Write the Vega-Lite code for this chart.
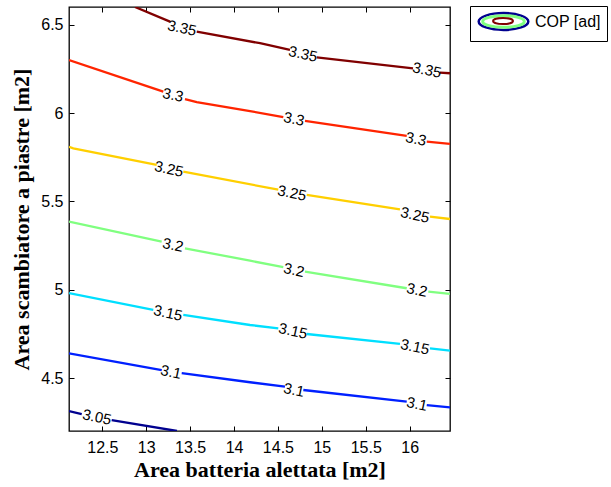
{
  "$schema": "https://vega.github.io/schema/vega-lite/v6.json",
  "width": 381,
  "height": 424,
  "autosize": "none",
  "padding": {"left": 69, "top": 7, "right": 161, "bottom": 56},
  "background": "white",
  "config": {
    "view": {"stroke": "black", "strokeWidth": 1.3},
    "axis": {
      "domain": false,
      "grid": false,
      "tickColor": "black",
      "tickSize": -5,
      "tickWidth": 1,
      "labelFont": "Liberation Sans",
      "labelFontSize": 16,
      "labelColor": "black",
      "labelPadding": 11,
      "titleFont": "Liberation Serif",
      "titleFontSize": 22,
      "titleFontWeight": "bold",
      "titleColor": "black"
    }
  },
  "datasets": {
    "lines": [
      {"lev": "3.35", "s": 1, "x": 12.872, "y": 6.6},
      {"lev": "3.35", "s": 1, "x": 13.27, "y": 6.517},
      {"lev": "3.35", "s": 2, "x": 13.575, "y": 6.46},
      {"lev": "3.35", "s": 2, "x": 14.296, "y": 6.395},
      {"lev": "3.35", "s": 2, "x": 14.637, "y": 6.357},
      {"lev": "3.35", "s": 3, "x": 14.942, "y": 6.315},
      {"lev": "3.35", "s": 3, "x": 16.039, "y": 6.253},
      {"lev": "3.35", "s": 4, "x": 16.346, "y": 6.228},
      {"lev": "3.35", "s": 4, "x": 16.46, "y": 6.225},
      {"lev": "3.3", "s": 1, "x": 12.12, "y": 6.3},
      {"lev": "3.3", "s": 1, "x": 13.194, "y": 6.121},
      {"lev": "3.3", "s": 2, "x": 13.441, "y": 6.078},
      {"lev": "3.3", "s": 2, "x": 13.575, "y": 6.061},
      {"lev": "3.3", "s": 2, "x": 14.182, "y": 6.011},
      {"lev": "3.3", "s": 2, "x": 14.561, "y": 5.976},
      {"lev": "3.3", "s": 3, "x": 14.808, "y": 5.956},
      {"lev": "3.3", "s": 3, "x": 15.967, "y": 5.87},
      {"lev": "3.3", "s": 4, "x": 16.195, "y": 5.838},
      {"lev": "3.3", "s": 4, "x": 16.46, "y": 5.825},
      {"lev": "3.25", "s": 1, "x": 12.12, "y": 5.809},
      {"lev": "3.25", "s": 1, "x": 12.169, "y": 5.8},
      {"lev": "3.25", "s": 1, "x": 13.119, "y": 5.706},
      {"lev": "3.25", "s": 2, "x": 13.422, "y": 5.668},
      {"lev": "3.25", "s": 2, "x": 14.504, "y": 5.566},
      {"lev": "3.25", "s": 3, "x": 14.828, "y": 5.536},
      {"lev": "3.25", "s": 3, "x": 15.89, "y": 5.455},
      {"lev": "3.25", "s": 4, "x": 16.232, "y": 5.413},
      {"lev": "3.25", "s": 4, "x": 16.46, "y": 5.4},
      {"lev": "3.2", "s": 1, "x": 12.12, "y": 5.385},
      {"lev": "3.2", "s": 1, "x": 13.176, "y": 5.272},
      {"lev": "3.2", "s": 2, "x": 13.441, "y": 5.234},
      {"lev": "3.2", "s": 2, "x": 14.182, "y": 5.164},
      {"lev": "3.2", "s": 2, "x": 14.561, "y": 5.127},
      {"lev": "3.2", "s": 3, "x": 14.808, "y": 5.102},
      {"lev": "3.2", "s": 3, "x": 15.967, "y": 5.008},
      {"lev": "3.2", "s": 4, "x": 16.213, "y": 4.989},
      {"lev": "3.2", "s": 4, "x": 16.46, "y": 4.976},
      {"lev": "3.15", "s": 1, "x": 12.12, "y": 4.98},
      {"lev": "3.15", "s": 1, "x": 13.08, "y": 4.885},
      {"lev": "3.15", "s": 2, "x": 13.422, "y": 4.857},
      {"lev": "3.15", "s": 2, "x": 14.182, "y": 4.8},
      {"lev": "3.15", "s": 2, "x": 14.504, "y": 4.781},
      {"lev": "3.15", "s": 3, "x": 14.828, "y": 4.749},
      {"lev": "3.15", "s": 3, "x": 15.89, "y": 4.693},
      {"lev": "3.15", "s": 4, "x": 16.232, "y": 4.668},
      {"lev": "3.15", "s": 4, "x": 16.46, "y": 4.655},
      {"lev": "3.1", "s": 1, "x": 12.12, "y": 4.64},
      {"lev": "3.1", "s": 1, "x": 13.176, "y": 4.545},
      {"lev": "3.1", "s": 2, "x": 13.404, "y": 4.527},
      {"lev": "3.1", "s": 2, "x": 14.182, "y": 4.476},
      {"lev": "3.1", "s": 2, "x": 14.58, "y": 4.451},
      {"lev": "3.1", "s": 3, "x": 14.789, "y": 4.432},
      {"lev": "3.1", "s": 3, "x": 15.967, "y": 4.366},
      {"lev": "3.1", "s": 4, "x": 16.195, "y": 4.347},
      {"lev": "3.1", "s": 4, "x": 16.46, "y": 4.334},
      {"lev": "3.05", "s": 1, "x": 12.12, "y": 4.313},
      {"lev": "3.05", "s": 1, "x": 12.265, "y": 4.296},
      {"lev": "3.05", "s": 2, "x": 12.606, "y": 4.262},
      {"lev": "3.05", "s": 2, "x": 13.35, "y": 4.2}
    ],
    "labels": [
      {"lev": "3.35", "x": 13.407, "y": 6.481},
      {"lev": "3.35", "x": 14.786, "y": 6.334},
      {"lev": "3.35", "x": 16.198, "y": 6.243},
      {"lev": "3.3", "x": 13.305, "y": 6.102},
      {"lev": "3.3", "x": 14.683, "y": 5.966},
      {"lev": "3.3", "x": 16.073, "y": 5.853},
      {"lev": "3.25", "x": 13.259, "y": 5.683},
      {"lev": "3.25", "x": 14.66, "y": 5.547},
      {"lev": "3.25", "x": 16.061, "y": 5.423},
      {"lev": "3.2", "x": 13.305, "y": 5.253},
      {"lev": "3.2", "x": 14.683, "y": 5.111},
      {"lev": "3.2", "x": 16.084, "y": 4.998},
      {"lev": "3.15", "x": 13.248, "y": 4.868},
      {"lev": "3.15", "x": 14.672, "y": 4.766},
      {"lev": "3.15", "x": 16.061, "y": 4.676},
      {"lev": "3.1", "x": 13.282, "y": 4.534},
      {"lev": "3.1", "x": 14.683, "y": 4.432},
      {"lev": "3.1", "x": 16.084, "y": 4.353},
      {"lev": "3.05", "x": 12.439, "y": 4.279}
    ],
    "legend": [
      {"name": "COP [ad]", "g": "g", "r": "r"}
    ]
  },
  "layer": [
    {
      "data": {"name": "lines"},
      "mark": {"type": "line", "strokeWidth": 2.3, "clip": true},
      "encoding": {
        "x": {
          "field": "x", "type": "quantitative",
          "scale": {"domain": [12.12, 16.46], "nice": false, "zero": false},
          "axis": {"orient": "bottom", "values": [12.5, 13, 13.5, 14, 14.5, 15, 15.5, 16], "format": ".1~f", "labelFlush": false, "labelPadding": 13, "title": "Area batteria alettata [m2]", "titlePadding": 4}
        },
        "y": {
          "field": "y", "type": "quantitative",
          "scale": {"domain": [4.2, 6.6], "nice": false, "zero": false},
          "axis": {"orient": "left", "values": [4.5, 5, 5.5, 6, 6.5], "format": ".1~f", "labelFlush": false, "title": "Area scambiatore a piastre [m2]", "titlePadding": 7}
        },
        "color": {
          "field": "lev", "type": "nominal",
          "scale": {
            "domain": ["3.05", "3.1", "3.15", "3.2", "3.25", "3.3", "3.35"],
            "range": ["#00008f", "#0020ff", "#00dfff", "#80ff80", "#ffcf00", "#ff2400", "#800000"]
          },
          "legend": null
        },
        "detail": {"field": "s", "type": "nominal"}
      }
    },
    {
      "data": {"name": "labels"},
      "mark": {"type": "text", "font": "Liberation Sans", "fontSize": 15, "angle": 12, "color": "black"},
      "encoding": {
        "x": {
          "field": "x", "type": "quantitative",
          "scale": {"domain": [12.12, 16.46], "nice": false, "zero": false},
          "axis": {"orient": "top", "values": [12.5, 13, 13.5, 14, 14.5, 15, 15.5, 16], "labels": false, "title": null}
        },
        "y": {
          "field": "y", "type": "quantitative",
          "scale": {"domain": [4.2, 6.6], "nice": false, "zero": false},
          "axis": {"orient": "right", "values": [4.5, 5, 5.5, 6, 6.5], "labels": false, "title": null}
        },
        "text": {"field": "lev", "type": "nominal"}
      }
    },
    {
      "data": {"name": "legend"},
      "mark": {"type": "point", "filled": false, "color": "#00008f", "strokeWidth": 2.5, "opacity": 0},
      "encoding": {
        "shape": {
          "field": "name", "type": "nominal",
          "scale": {"range": ["M -3.1 0 A 3.1 1.05 0 1 0 3.1 0 A 3.1 1.05 0 1 0 -3.1 0 Z"]},
          "legend": {
            "title": null,
            "orient": "none",
            "legendX": 401,
            "legendY": -1,
            "strokeColor": "black",
            "padding": 6,
            "symbolSize": 256,
            "symbolStrokeColor": "#00008f",
            "symbolStrokeWidth": 2.5,
            "symbolOpacity": 1,
            "symbolOffset": 18,
            "labelOffset": 22,
            "labelFont": "Liberation Sans",
            "labelFontSize": 16,
            "labelColor": "black"
          }
        }
      }
    },
    {
      "data": {"name": "legend"},
      "mark": {"type": "point", "filled": false, "color": "#80ff80", "strokeWidth": 3, "opacity": 0},
      "encoding": {
        "shape": {
          "field": "g", "type": "nominal",
          "scale": {"range": ["M -2.6 0 A 2.6 0.72 0 1 0 2.6 0 A 2.6 0.72 0 1 0 -2.6 0 Z"]},
          "legend": {
            "title": null,
            "orient": "none",
            "legendX": 401,
            "legendY": -1,
            "padding": 6,
            "symbolSize": 256,
            "symbolStrokeColor": "#80ff80",
            "symbolStrokeWidth": 3,
            "symbolOpacity": 1,
            "symbolOffset": 18,
            "labelOffset": 22,
            "labelExpr": "''",
            "labelFontSize": 16
          }
        }
      }
    },
    {
      "data": {"name": "legend"},
      "mark": {"type": "point", "filled": false, "color": "#800000", "strokeWidth": 2, "opacity": 0},
      "encoding": {
        "shape": {
          "field": "r", "type": "nominal",
          "scale": {"range": ["M -1.25 0 A 1.25 0.38 0 1 0 1.25 0 A 1.25 0.38 0 1 0 -1.25 0 Z"]},
          "legend": {
            "title": null,
            "orient": "none",
            "legendX": 401,
            "legendY": -1,
            "padding": 6,
            "symbolSize": 256,
            "symbolStrokeColor": "#800000",
            "symbolStrokeWidth": 2,
            "symbolOpacity": 1,
            "symbolOffset": 18,
            "labelOffset": 22,
            "labelExpr": "''",
            "labelFontSize": 16
          }
        }
      }
    }
  ],
  "resolve": {
    "axis": {"x": "independent", "y": "independent"},
    "scale": {"shape": "independent"},
    "legend": {"shape": "independent"}
  }
}
